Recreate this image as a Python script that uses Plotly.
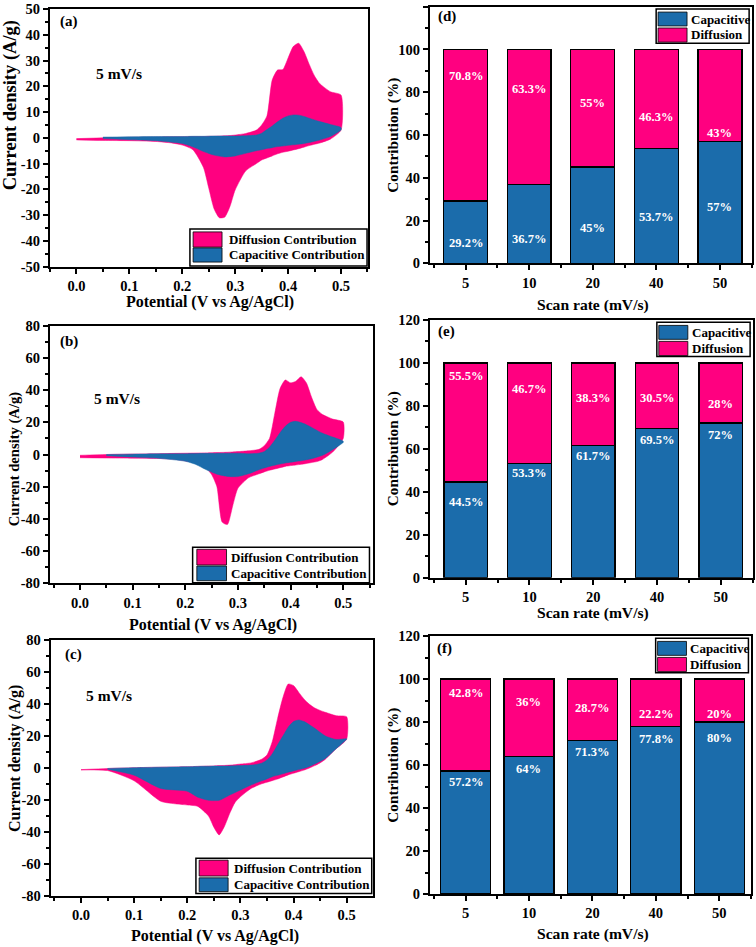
import plotly.graph_objects as go

PINK = "#FF0080"
BLUE = "#1B6CAB"
FONT = "Liberation Serif"
W, H = 756, 947

# ---------------- CV data (Potential in V, current density in A/g) ----------------
V_TOT = [0.00, 0.05, 0.10, 0.15, 0.18, 0.20, 0.22, 0.24, 0.25, 0.26, 0.27, 0.28, 0.29, 0.30,
         0.32, 0.34, 0.35, 0.36, 0.37, 0.38, 0.39, 0.40, 0.41, 0.42, 0.43, 0.44, 0.45, 0.46,
         0.48, 0.50]
V_CAP = [0.05, 0.10, 0.15, 0.20, 0.22, 0.24, 0.26, 0.28, 0.30, 0.32, 0.34, 0.35, 0.36, 0.37,
         0.38, 0.39, 0.40, 0.41, 0.42, 0.43, 0.44, 0.46, 0.48, 0.50]

# panel (a)
A_TOT_UP = [-0.3, 0.0, 0.2, 0.3, 0.4, 0.4, 0.5, 0.5, 0.6, 0.6, 0.7, 0.8, 0.9, 1.1,
            1.7, 3.0, 5.0, 8.5, 22.5, 26.3, 26.5, 31.0, 35.5, 36.7, 33.5, 28.5, 24.0, 21.0,
            17.9, 16.6]
A_TOT_DN = [-0.8, -1.0, -1.1, -1.4, -2.0, -2.8, -4.6, -11.5, -19.5, -27.5, -31.0, -30.8, -26.7, -20.2,
            -12.8, -10.0, -8.6, -7.8, -7.0, -6.2, -5.6, -5.2, -4.7, -4.2, -3.6, -3.0, -2.5, -2.0,
            -0.5, 3.0]
A_CAP_UP = [0.3, 0.4, 0.5, 0.5, 0.6, 0.6, 0.7, 0.7, 0.7, 0.8, 1.1, 1.8, 3.2, 4.6,
            6.2, 7.6, 8.5, 8.9, 8.8, 8.3, 7.6, 6.3, 5.2, 4.0]
A_CAP_DN = [-0.3, -0.7, -1.1, -2.2, -3.5, -5.3, -6.7, -7.4, -7.0, -6.0, -5.0, -4.6, -4.1, -3.8,
            -3.4, -3.2, -2.9, -2.7, -2.5, -2.2, -1.8, -0.8, 0.5, 3.0]

# panel (b)
B_TOT_UP = [-0.5, 0.0, 0.3, 0.5, 0.7, 0.8, 0.9, 1.0, 1.1, 1.2, 1.3, 1.4, 1.6, 1.8,
            2.3, 3.2, 5.5, 10.0, 25.6, 41.0, 46.3, 44.5, 45.5, 48.3, 44.5, 35.5, 28.0, 25.0,
            22.0, 20.2]
B_TOT_DN = [-2.0, -2.2, -2.3, -2.5, -3.0, -4.0, -5.3, -8.6, -12.5, -20.0, -42.0, -43.5, -32.0, -21.0,
            -14.5, -12.0, -10.8, -9.8, -9.0, -8.2, -7.4, -6.9, -6.5, -6.1, -5.6, -5.0, -4.4, -3.2,
            1.5, 10.0]
B_CAP_UP = [0.0, 0.2, 0.4, 0.5, 0.6, 0.7, 0.7, 0.8, 0.8, 0.5, 0.8, 1.8, 4.5, 8.8,
            13.5, 17.5, 20.0, 20.6, 19.8, 18.5, 16.8, 13.3, 10.8, 8.3]
B_CAP_DN = [-0.7, -1.6, -2.4, -4.2, -6.2, -9.5, -12.2, -13.6, -13.7, -12.0, -9.5, -8.4, -7.4, -6.6,
            -5.9, -5.3, -4.8, -4.3, -3.9, -3.3, -2.6, -0.6, 3.0, 7.5]

# panel (c)
C_TOT_UP = [-1.0, -0.3, 0.2, 0.5, 0.7, 0.8, 1.0, 1.2, 1.3, 1.5, 1.6, 1.8, 2.1, 2.5,
            3.2, 5.5, 8.1, 16.5, 31.0, 44.0, 52.5, 51.5, 47.2, 43.0, 39.8, 37.5, 36.0, 34.8,
            32.7, 32.0]
C_TOT_DN = [-1.3, -1.6, -8.0, -20.8, -22.5, -23.1, -24.0, -30.0, -37.0, -41.8, -36.5, -28.3, -21.5, -18.0,
            -12.8, -9.9, -8.9, -7.9, -6.9, -5.6, -4.3, -3.3, -2.3, -1.3, 0.0, 1.5, 3.2, 5.5,
            12.0, 18.0]
C_CAP_UP = [-0.3, 0.2, 0.5, 0.8, 1.0, 1.1, 1.2, 1.3, 1.5, 1.8, 3.0, 5.0, 8.8, 14.5,
            20.0, 25.5, 29.0, 30.0, 29.0, 27.0, 24.8, 20.0, 17.8, 18.3]
C_CAP_DN = [-0.8, -4.5, -12.8, -14.5, -18.3, -20.2, -20.2, -16.9, -13.8, -10.6, -8.0, -6.8, -5.4, -4.6,
            -3.6, -2.6, -1.8, -1.0, -0.2, 1.0, 2.5, 6.0, 12.0, 18.0]

# ---------------- Contribution bar data ----------------
RATES = ["5", "10", "20", "40", "50"]
D_CAP = [29.2, 36.7, 45, 53.7, 57]
D_DIF = [70.8, 63.3, 55, 46.3, 43]
E_CAP = [44.5, 53.3, 61.7, 69.5, 72]
E_DIF = [55.5, 46.7, 38.3, 30.5, 28]
F_CAP = [57.2, 64, 71.3, 77.8, 80]
F_DIF = [42.8, 36, 28.7, 22.2, 20]

# label placement (y position of the percentage text inside each segment)
D_CAP_LY = [9.4, 11.2, 16.4, 21.5, 26.2]
D_DIF_LY = [87.6, 81.3, 75.1, 68.3, 61.1]
E_CAP_LY = [35.1, 48.6, 56.8, 64.1, 66.5]
E_DIF_LY = [94.1, 87.9, 83.6, 83.6, 80.8]
F_CAP_LY = [52.2, 58.1, 65.9, 72.1, 72.4]
F_DIF_LY = [93.3, 89.5, 86.4, 83.6, 83.6]

# evenly spaced slots for the scan-rate categories
SLOTS = list(range(len(RATES)))


def fmt(v):
    return ("%g" % v) + "%"


def xd(l, r):
    return [l / W, r / W]


def yd(t, b):
    return [1 - b / H, 1 - t / H]


fig = go.Figure()

cv_panels = [
    ("x", "y", A_TOT_UP, A_TOT_DN, A_CAP_UP, A_CAP_DN),
    ("x2", "y2", B_TOT_UP, B_TOT_DN, B_CAP_UP, B_CAP_DN),
    ("x3", "y3", C_TOT_UP, C_TOT_DN, C_CAP_UP, C_CAP_DN),
]
for xa, ya, tu, td, cu, cd in cv_panels:
    fig.add_trace(go.Scatter(
        x=V_TOT + V_TOT[::-1], y=tu + td[::-1], xaxis=xa, yaxis=ya,
        mode="lines", fill="toself", fillcolor=PINK,
        line=dict(color=PINK, width=0.5, shape="spline", smoothing=0.6),
        name="Diffusion Contribution", hoverinfo="skip"))
    fig.add_trace(go.Scatter(
        x=V_CAP + V_CAP[::-1], y=cu + cd[::-1], xaxis=xa, yaxis=ya,
        mode="lines", fill="toself", fillcolor=BLUE,
        line=dict(color=BLUE, width=0.5, shape="spline", smoothing=0.6),
        name="Capacitive Contribution", hoverinfo="skip"))

bar_panels = [
    ("x4", "y4", D_CAP, D_DIF, D_CAP_LY, D_DIF_LY, 0.69),
    ("x5", "y5", E_CAP, E_DIF, E_CAP_LY, E_DIF_LY, 0.68),
    ("x6", "y6", F_CAP, F_DIF, F_CAP_LY, F_DIF_LY, 0.79),
]
annotations = []
for xa, ya, cap, dif, cly, dly, bw in bar_panels:
    fig.add_trace(go.Bar(x=SLOTS, y=cap, xaxis=xa, yaxis=ya, name="Capacitive",
                         marker=dict(color=BLUE, line=dict(color="black", width=1.3)),
                         width=bw, hoverinfo="skip"))
    fig.add_trace(go.Bar(x=SLOTS, y=dif, xaxis=xa, yaxis=ya, name="Diffusion",
                         marker=dict(color=PINK, line=dict(color="black", width=1.3)),
                         width=bw, hoverinfo="skip"))
    for i, c, d, cy, dy in zip(SLOTS, cap, dif, cly, dly):
        annotations.append(dict(x=i, y=cy, xref=xa, yref=ya, text=fmt(c), showarrow=False,
                                font=dict(family=FONT, size=12.5, color="white", weight="bold")))
        annotations.append(dict(x=i, y=dy, xref=xa, yref=ya, text=fmt(d), showarrow=False,
                                font=dict(family=FONT, size=12.5, color="white", weight="bold")))

tickfont = dict(family=FONT, size=14.5, color="black", weight="bold")


def axis(domain, anchor, rng, dtick=None, minor_dtick=None, tickvals=None, ticktext=None,
         tickformat=None):
    a = dict(domain=domain, anchor=anchor, range=rng, showline=True, linecolor="black",
             linewidth=2, mirror=True, ticks="outside", ticklen=5, tickwidth=1.5,
             tickcolor="black", showgrid=False, zeroline=False, tickfont=tickfont,
             automargin=False, fixedrange=True)
    if tickvals is not None:
        a.update(tickmode="array", tickvals=tickvals, ticktext=ticktext)
    elif dtick is not None:
        a.update(dtick=dtick, tick0=0)
    if tickformat:
        a["tickformat"] = tickformat
    if minor_dtick:
        a["minor"] = dict(ticks="outside", ticklen=3, tickwidth=1.5, tickcolor="black",
                          dtick=minor_dtick, tick0=0, showgrid=False)
    return a


ya_vals = list(range(-50, 51, 10))
yb_vals = list(range(-80, 81, 20))
ybar_vals = list(range(0, 121, 20))

layout = dict(
    template="none",
    width=W, height=H, margin=dict(l=0, r=0, t=0, b=0, pad=0, autoexpand=False),
    paper_bgcolor="white", plot_bgcolor="white", showlegend=False, barmode="stack",
    font=dict(family=FONT, color="black", weight="bold"),
    xaxis=axis(xd(50, 368), "y", [-0.05, 0.551], dtick=0.1, minor_dtick=0.05, tickformat=".1f"),
    yaxis=axis(yd(9, 266.7), "x", [-50, 50], minor_dtick=5, tickvals=ya_vals,
               ticktext=[str(v) for v in ya_vals]),
    xaxis2=axis(xd(50, 372.7), "y2", [-0.057, 0.556], dtick=0.1, minor_dtick=0.05, tickformat=".1f"),
    yaxis2=axis(yd(325.7, 583.3), "x2", [-80, 80], minor_dtick=10, tickvals=yb_vals,
                ticktext=[str(v) for v in yb_vals]),
    xaxis3=axis(xd(50.7, 372.7), "y3", [-0.057, 0.549], dtick=0.1, minor_dtick=0.05, tickformat=".1f"),
    yaxis3=axis(yd(640, 896), "x3", [-80, 80], minor_dtick=10, tickvals=yb_vals,
                ticktext=[str(v) for v in yb_vals]),
    xaxis4=axis(xd(430, 751.7), "y4", [-0.56, 4.5], minor_dtick=0.5, tickvals=SLOTS, ticktext=RATES),
    yaxis4=axis(yd(6.7, 263.3), "x4", [0, 120], minor_dtick=10, tickvals=ybar_vals,
                ticktext=[str(v) for v in ybar_vals]),
    xaxis5=axis(xd(430, 752.7), "y5", [-0.56, 4.5], minor_dtick=0.5, tickvals=SLOTS, ticktext=RATES),
    yaxis5=axis(yd(320, 577.7), "x5", [0, 120], minor_dtick=10, tickvals=ybar_vals,
                ticktext=[str(v) for v in ybar_vals]),
    xaxis6=axis(xd(430, 751), "y6", [-0.56, 4.5], minor_dtick=0.5, tickvals=SLOTS, ticktext=RATES),
    yaxis6=axis(yd(636, 894), "x6", [0, 120], minor_dtick=10, tickvals=ybar_vals,
                ticktext=[str(v) for v in ybar_vals]),
)
for k in ("xaxis4", "xaxis5", "xaxis6"):
    layout[k]["minor"]["tick0"] = 0.5
    layout[k]["minor"]["dtick"] = 1


def ptxt(x, y, text, size, angle=0, color="black"):
    annotations.append(dict(x=x / W, y=1 - y / H, xref="paper", yref="paper", text=text,
                            showarrow=False, textangle=angle, xanchor="center", yanchor="middle",
                            font=dict(family=FONT, size=size, color=color, weight="bold")))


# axis titles
ptxt(209.7, 302, "Potential (V vs Ag/AgCl)", 16)
ptxt(213.5, 625, "Potential (V vs Ag/AgCl)", 16)
ptxt(214.5, 936, "Potential (V vs Ag/AgCl)", 16)
ptxt(10.5, 105.8, "Current density (A/g)", 18.5, -90)
ptxt(14.2, 459, "Current density (A/g)", 14.6, -90)
ptxt(15, 759, "Current density (A/g)", 16, -90)
for yc in (135.8, 449.2, 765.8):
    ptxt(393, yc, "Contribution (%)", 15.3, -90)
ptxt(592.5, 304.5, "Scan rate (mV/s)", 15.6)
ptxt(592.5, 613, "Scan rate (mV/s)", 15.6)
ptxt(592.5, 933.5, "Scan rate (mV/s)", 15.6)


def dtxt(ax, fx, fy, text, size, xanchor="center"):
    annotations.append(dict(x=fx, y=fy, xref=ax[0] + " domain", yref=ax[1] + " domain", text=text,
                            showarrow=False, xanchor=xanchor, yanchor="middle",
                            font=dict(family=FONT, size=size, color="black", weight="bold")))


# panel letters
dtxt(("x", "y"), 0.06, 0.953, "(a)", 15)
dtxt(("x2", "y2"), 0.059, 0.94, "(b)", 15)
dtxt(("x3", "y3"), 0.07, 0.945, "(c)", 15)
dtxt(("x4", "y4"), 0.052, 0.961, "(d)", 15)
dtxt(("x5", "y5"), 0.05, 0.955, "(e)", 15)
dtxt(("x6", "y6"), 0.044, 0.953, "(f)", 15)
# scan rate text
dtxt(("x", "y"), 0.217, 0.748, "5 mV/s", 15.5)
dtxt(("x2", "y2"), 0.208, 0.719, "5 mV/s", 15.5)
dtxt(("x3", "y3"), 0.18, 0.785, "5 mV/s", 15.5)

shapes = []


def rect(ax, x0, x1, y0, y1, fill, lw=1.0):
    shapes.append(dict(type="rect", xref=ax[0] + " domain", yref=ax[1] + " domain",
                       x0=x0, x1=x1, y0=y0, y1=y1, fillcolor=fill,
                       line=dict(color="black", width=lw), layer="above"))


# CV legends (box, swatch x, pink swatch y, blue swatch y, text x)
cv_leg = [
    (("x", "y"), (0.44, 0.997, 0.003, 0.146), (0.45, 0.541), (0.076, 0.135), (0.018, 0.073), 0.557),
    (("x2", "y2"), (0.442, 0.99, 0.002, 0.14), (0.455, 0.547), (0.071, 0.132), (0.01, 0.067), 0.556),
    (("x3", "y3"), (0.451, 0.997, 0.01, 0.147), (0.461, 0.551), (0.078, 0.14), (0.017, 0.071), 0.562),
]
for ax, box, sx, py, by, tx in cv_leg:
    rect(ax, box[0], box[1], box[2], box[3], "white", 1.5)
    rect(ax, sx[0], sx[1], py[0], py[1], PINK, 0.8)
    rect(ax, sx[0], sx[1], by[0], by[1], BLUE, 0.8)
    dtxt(ax, tx, (py[0] + py[1]) / 2, "Diffusion Contribution", 13, "left")
    dtxt(ax, tx, (by[0] + by[1]) / 2, "Capacitive Contribution", 13, "left")

# bar legends
for ax in (("x4", "y4"), ("x5", "y5"), ("x6", "y6")):
    rect(ax, 0.703, 0.992, 0.858, 0.991, "white", 1.5)
    rect(ax, 0.709, 0.799, 0.925, 0.979, BLUE, 0.8)
    rect(ax, 0.709, 0.799, 0.862, 0.917, PINK, 0.8)
    dtxt(ax, 0.805, 0.952, "Capacitive", 13, "left")
    dtxt(ax, 0.805, 0.89, "Diffusion", 13, "left")

layout["annotations"] = annotations
layout["shapes"] = shapes
fig.update_layout(**layout)
fig.write_html("out.html", config={"displayModeBar": False},
               post_script="document.body.style.margin='0';document.body.style.overflow='hidden';")
